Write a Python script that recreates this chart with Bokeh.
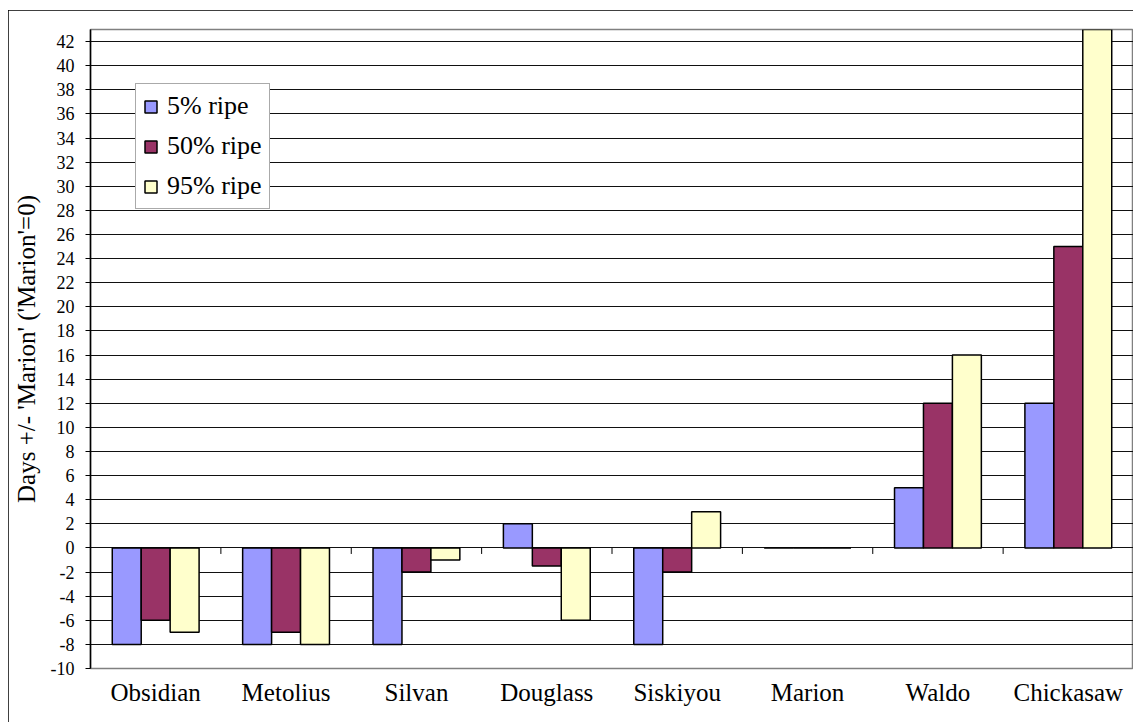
from bokeh.plotting import figure
from bokeh.models import (ColumnDataSource, FactorRange, Range1d, SingleIntervalTicker, Legend,
                          LegendItem, CustomJSTickFormatter)
from bokeh.transform import dodge
from bokeh.embed import file_html
from bokeh.resources import INLINE

# ---- data ----
categories = ["Obsidian", "Metolius", "Silvan", "Douglass", "Siskiyou", "Marion", "Waldo", "Chickasaw"]
ripe5 = [-8, -8, -8, 2, -8, 0, 5, 12]
ripe50 = [-6, -7, -2, -1.5, -2, 0, 12, 25]
ripe95 = [-7, -8, -1, -6, 3, 0, 16, 43]
series_names = ["5% ripe", "50% ripe", "95% ripe"]
y_label = "Days +/- 'Marion' ('Marion'=0)"

colors = ["#9999FF", "#993366", "#FFFFCC"]
FONT = "Liberation Serif"

source = ColumnDataSource(dict(cat=categories, r5=ripe5, r50=ripe50, r95=ripe95))

p = figure(width=1125, height=712,
           x_range=FactorRange(factors=categories),
           y_range=Range1d(-10, 43),
           output_backend="svg", toolbar_location=None,
           min_border_left=82, min_border_right=0,
           min_border_top=19, min_border_bottom=54)
p.styles = {"outline": "1px solid #000000", "outline-offset": "-1px",
            "margin-left": "8px", "margin-top": "10px"}

bw = 0.222
renderers = []
for key, off, col in zip(["r5", "r50", "r95"], [-bw, 0.0, bw], colors):
    r = p.vbar(x=dodge("cat", off, range=p.x_range), top=key, bottom=0, width=bw,
               source=source, fill_color=col, line_color="black", line_width=1.5)
    renderers.append(r)

# category tick marks on the zero line
p.segment(x0=dodge("cat", 0.5, range=p.x_range), y0=0,
          x1=dodge("cat", 0.5, range=p.x_range), y1=-0.5,
          source=source, line_color="black", line_width=1)

# axes
p.yaxis.ticker = SingleIntervalTicker(interval=2)
p.yaxis.formatter = CustomJSTickFormatter(code="return tick.toString();")
p.yaxis.minor_tick_line_color = None
p.yaxis.major_tick_out = 5
p.yaxis.major_tick_in = 0
p.yaxis.major_label_standoff = 11
p.yaxis.major_label_text_font = FONT
p.yaxis.major_label_text_font_size = "18px"
p.yaxis.major_label_text_color = "black"
p.yaxis.axis_line_color = "black"
p.yaxis.axis_line_width = 1.5
p.yaxis.axis_label = y_label
p.yaxis.axis_label_text_font = FONT
p.yaxis.axis_label_text_font_size = "25px"
p.yaxis.axis_label_text_font_style = "normal"
p.yaxis.axis_label_text_color = "black"
p.yaxis.axis_label_standoff = 8

p.xaxis.major_tick_line_color = None
p.xaxis.minor_tick_line_color = None
p.xaxis.axis_line_color = None
p.xaxis.major_label_text_font = FONT
p.xaxis.major_label_text_font_size = "25px"
p.xaxis.major_label_text_color = "black"
p.xaxis.major_label_standoff = 4

# grid
p.xgrid.grid_line_color = None
p.ygrid.ticker = SingleIntervalTicker(interval=2)
p.ygrid.grid_line_color = "#111111"
p.ygrid.grid_line_width = 1

p.outline_line_color = "#808080"
p.outline_line_width = 1.5
p.background_fill_color = "white"
p.border_fill_color = "white"

legend = Legend(items=[LegendItem(label=n, renderers=[r]) for n, r in zip(series_names, renderers)],
                location=(45, 459), orientation="vertical",
                label_text_font=FONT, label_text_font_size="26px", label_text_color="black",
                glyph_width=15, glyph_height=15, label_height=30, spacing=10,
                padding=7, margin=0, label_standoff=9,
                border_line_color="#555555", border_line_width=1.5,
                background_fill_color="white", background_fill_alpha=1.0)
p.add_layout(legend)

open("out.html", "w").write(file_html(p, INLINE))
